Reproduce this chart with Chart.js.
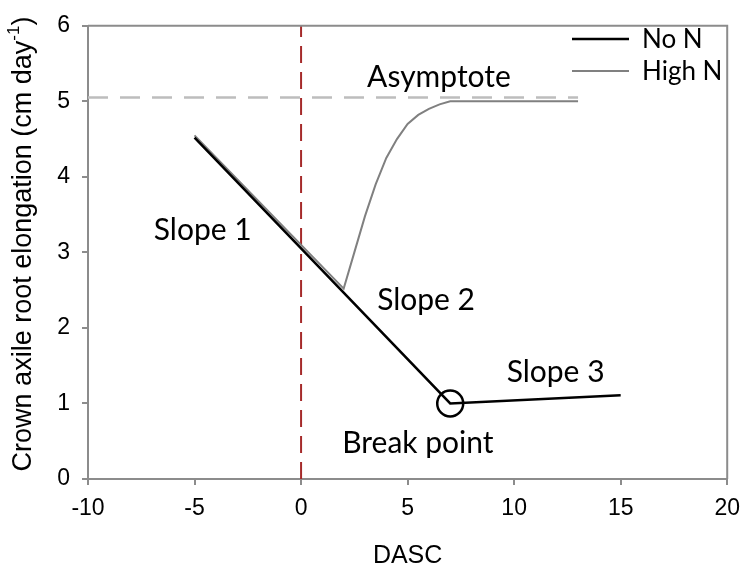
<!DOCTYPE html>
<html>
<head>
<meta charset="utf-8">
<script src="https://cdn.jsdelivr.net/npm/chart.js@4.4.0/dist/chart.umd.min.js"></script>
<style>
  html, body { margin: 0; padding: 0; background: #fff; }
  #wrap { width: 750px; height: 575px; }
</style>
</head>
<body>
<div id="wrap"><canvas id="chart"></canvas></div>
<script>
// values
const noNX = [-5, 7, 15];
const noNY = [4.52, 1.0, 1.11];
const highNX = [-5, 2, 2.5, 3, 3.5, 4, 4.5, 5, 5.5, 6, 6.5, 7, 13];
const highNY = [4.55, 2.52, 3.0, 3.48, 3.9, 4.25, 4.5, 4.7, 4.82, 4.9, 4.96, 5.0, 5.0];
const asymX = [-10, 13];
const asymY = [5.05, 5.05];
const sowingX = [0, 0];
const sowingY = [0, 6];
const breakX = [7];
const breakY = [1.0];
const xTicks = [-10, -5, 0, 5, 10, 15, 20];

const pts = (xs, ys) => xs.map((x, i) => ({ x: x, y: ys[i] }));

const GREY_AXIS = "#8c8c8c";
const LABEL_FONT = "Lato, 'Open Sans', sans-serif";
const TICK_FONT = "'Liberation Sans', Arial, sans-serif";

// text labels placed in data units
const notes = [
  { text: "Asymptote", x: 3.1, y: 5.19 },
  { text: "Slope 1", x: -6.91, y: 3.17 },
  { text: "Slope 2", x: 3.57, y: 2.24 },
  { text: "Slope 3", x: 9.65, y: 1.28 },
  { text: "Break point", x: 1.93, y: 0.35 },
];

const decor = {
  id: "decor",
  afterDraw(chart) {
    const ctx = chart.ctx;
    const a = chart.chartArea;
    const xs = chart.scales.x, ys = chart.scales.y;
    ctx.save();

    // frame top + right
    ctx.strokeStyle = GREY_AXIS;
    ctx.lineWidth = 2;
    ctx.beginPath();
    ctx.moveTo(a.left, a.top);
    ctx.lineTo(a.right, a.top);
    ctx.lineTo(a.right, a.bottom);
    ctx.stroke();

    // annotations
    ctx.fillStyle = "#000";
    ctx.font = "30px " + LABEL_FONT;
    ctx.textBaseline = "alphabetic";
    ctx.textAlign = "left";
    notes.forEach((n) => {
      ctx.fillText(n.text, xs.getPixelForValue(n.x), ys.getPixelForValue(n.y));
    });

    // legend
    const legendItems = chart.data.datasets.filter((d) => d.inLegend);
    ctx.font = "26px " + LABEL_FONT;
    legendItems.forEach((d, i) => {
      const y = 39 + i * 32;
      ctx.strokeStyle = d.borderColor;
      ctx.lineWidth = d.borderWidth;
      ctx.beginPath();
      ctx.moveTo(572, y);
      ctx.lineTo(629, y);
      ctx.stroke();
      ctx.fillStyle = "#000";
      ctx.fillText(d.label, 642, y + 9);
    });

    // y axis title with superscript
    ctx.translate(24, 244);
    ctx.rotate(-Math.PI / 2);
    const main = "Crown axile root elongation (cm day";
    ctx.font = "27px " + TICK_FONT;
    const w1 = ctx.measureText(main).width;
    ctx.font = "17px " + TICK_FONT;
    const w2 = ctx.measureText("-1").width;
    ctx.font = "27px " + TICK_FONT;
    const w3 = ctx.measureText(")").width;
    let x0 = -(w1 + w2 + w3) / 2;
    ctx.textBaseline = "middle";
    ctx.fillText(main, x0, 0);
    ctx.font = "17px " + TICK_FONT;
    ctx.fillText("-1", x0 + w1, -10);
    ctx.font = "27px " + TICK_FONT;
    ctx.fillText(")", x0 + w1 + w2, 0);
    ctx.restore();
  },
};

new Chart(document.getElementById("chart"), {
  type: "scatter",
  data: {
    datasets: [
      {
        label: "Break point",
        data: pts(breakX, breakY),
        showLine: false,
        pointRadius: 13,
        pointStyle: "circle",
        pointBackgroundColor: "rgba(0,0,0,0)",
        pointBorderColor: "#000",
        pointBorderWidth: 2.5,
        order: 0,
      },
      {
        label: "No N",
        inLegend: true,
        data: pts(noNX, noNY),
        showLine: true,
        borderColor: "#000",
        borderWidth: 2.5,
        pointRadius: 0,
        order: 1,
      },
      {
        label: "High N",
        inLegend: true,
        data: pts(highNX, highNY),
        showLine: true,
        borderColor: "#808080",
        borderWidth: 2,
        pointRadius: 0,
        order: 2,
      },
      {
        label: "Asymptote",
        data: pts(asymX, asymY),
        showLine: true,
        borderColor: "#bdbdbd",
        borderWidth: 2.5,
        borderDash: [20, 12],
        pointRadius: 0,
        order: 3,
      },
      {
        label: "Sowing",
        data: pts(sowingX, sowingY),
        showLine: true,
        borderColor: "#a52a2a",
        borderWidth: 2,
        borderDash: [17, 9],
        pointRadius: 0,
        order: 4,
      },
    ],
  },
  options: {
    responsive: true,
    maintainAspectRatio: false,
    animation: false,
    layout: { padding: { top: 18, right: 20, left: 0, bottom: 0 } },
    plugins: {
      legend: { display: false },
      tooltip: { enabled: false },
    },
    scales: {
      x: {
        type: "linear",
        min: -10,
        max: 20,
        afterBuildTicks: (s) => { s.ticks = xTicks.map((v) => ({ value: v })); },
        ticks: { color: "#000", font: { size: 23, family: TICK_FONT }, padding: 10 },
        grid: { drawOnChartArea: false, drawTicks: true, tickLength: 6, color: GREY_AXIS, lineWidth: 2 },
        border: { color: GREY_AXIS, width: 2 },
        title: {
          display: true,
          text: "DASC",
          color: "#000",
          font: { size: 25, family: TICK_FONT },
          padding: { top: 17 },
        },
        afterFit: (s) => { s.height = 96; },
      },
      y: {
        min: 0,
        max: 6,
        ticks: { stepSize: 1, color: "#000", font: { size: 23, family: TICK_FONT }, padding: 12 },
        grid: { drawOnChartArea: false, drawTicks: true, tickLength: 6, color: GREY_AXIS, lineWidth: 2 },
        border: { color: GREY_AXIS, width: 2 },
        afterFit: (s) => { s.width = 88; },
      },
    },
  },
  plugins: [decor],
});
</script>
</body>
</html>
